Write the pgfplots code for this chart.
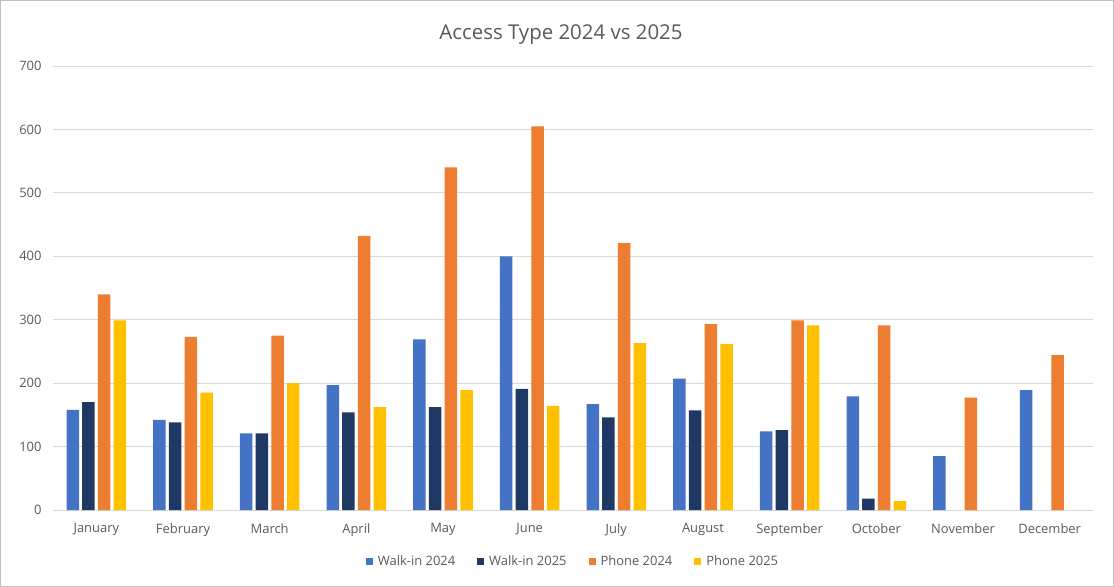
\documentclass[border=0pt]{standalone}
\usepackage{fontspec}
\setmainfont{Open Sans}
\usepackage{pgfplots}
\usepackage{pgfplotstable}
\pgfplotsset{compat=1.18}
\definecolor{wa}{HTML}{4472C4}
\definecolor{wb}{HTML}{203864}
\definecolor{pa}{HTML}{ED7D31}
\definecolor{pb}{HTML}{FFC000}
\definecolor{gridgray}{HTML}{D9D9D9}
\definecolor{textgray}{HTML}{595959}
\definecolor{framegray}{HTML}{BFBFBF}

\pgfplotstableread{
x y
0 158
1 142
2 121
3 197
4 269
5 400
6 167
7 207
8 124
9 179
10 85
11 189
}\walkA
\pgfplotstableread{
x y
0 170
1 138
2 121
3 154
4 162
5 191
6 146
7 157
8 126
9 18
}\walkB
\pgfplotstableread{
x y
0 340
1 273
2 275
3 432
4 540
5 605
6 421
7 293
8 299
9 291
10 177
11 244
}\phoneA
\pgfplotstableread{
x y
0 299
1 185
2 200
3 162
4 189
5 164
6 263
7 262
8 291
9 14
}\phoneB

\pgfplotsset{
  mybar/.style={fill=#1, draw=none,
    legend image code/.code={\fill[#1] (0bp,-3.5bp) rectangle (7bp,3.5bp); \path (10bp,0bp);}},
}

\begin{document}
\begin{tikzpicture}[x=1bp,y=1bp]
\useasboundingbox (-53bp,-77bp) rectangle (1061bp,510bp);
\draw[color=framegray, line width=0.8bp] (-52.6bp,-76.6bp) rectangle (1060.6bp,509.6bp);
\begin{axis}[
  at={(0,0)}, anchor=south west,
  scale only axis, width=1040bp, height=444bp,
  ymin=0, ymax=700, ytick={0,100,...,700},
  xmin=-0.5, xmax=11.5, xtick={0,...,11},
  xticklabels={January,February,March,April,May,June,July,August,September,October,November,December},
  ybar=3.2bp, bar width=12.5bp,
  ymajorgrids, grid style={color=gridgray, line width=0.8bp},
  axis line style={draw=none},
  major tick length=0pt,
  tick label style={font=\fontsize{13}{15}\selectfont, color=textgray},
  /pgf/number format/assume math mode=true,
  yticklabel style={xshift=-8bp},
  xticklabel style={yshift=-10bp},
  title={Access Type 2024 vs 2025},
  title style={font=\fontsize{20.5}{24}\selectfont, color=textgray, yshift=12bp, xshift=-12bp},
  legend columns=4,
  legend style={at={(0.5,-0.115)}, anchor=center, draw=none, fill=none,
    font=\fontsize{13}{15}\selectfont, text=textgray,
    /tikz/every even column/.append style={column sep=20bp}},
]
\addplot[mybar=wa] table[x=x,y=y] {\walkA};
\addlegendentry{Walk-in 2024}
\addplot[mybar=wb] table[x=x,y=y] {\walkB};
\addlegendentry{Walk-in 2025}
\addplot[mybar=pa] table[x=x,y=y] {\phoneA};
\addlegendentry{Phone 2024}
\addplot[mybar=pb] table[x=x,y=y] {\phoneB};
\addlegendentry{Phone 2025}
\end{axis}
\end{tikzpicture}
\end{document}
